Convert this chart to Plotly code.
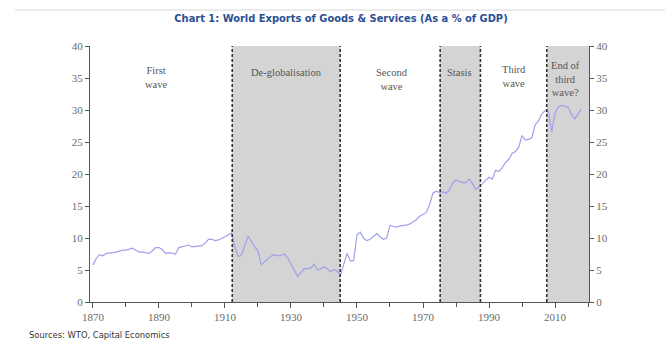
import plotly.graph_objects as go

years = list(range(1870, 2019))
exports_pct_gdp = [
    5.8, 6.8, 7.4, 7.2, 7.6, 7.6, 7.7, 7.8, 8.0, 8.1,   # 1870-1879
    8.1, 8.2, 8.4, 8.1, 7.8, 7.8, 7.7, 7.6, 8.0, 8.5,   # 1880-1889
    8.5, 8.2, 7.6, 7.7, 7.6, 7.5, 8.5, 8.6, 8.7, 8.9,   # 1890-1899
    8.6, 8.7, 8.7, 8.8, 9.2, 9.8, 9.8, 9.6, 9.7, 9.9,   # 1900-1909
    10.2, 10.5, 10.8, 8.6, 7.1, 7.3, 8.8, 10.3, 9.5, 8.6,  # 1910-1919
    8.0, 5.8, 6.3, 6.8, 7.2, 7.4, 7.2, 7.3, 7.5, 6.9,   # 1920-1929
    6.0, 5.0, 4.0, 4.6, 5.2, 5.2, 5.3, 5.9, 5.0, 5.2,   # 1930-1939
    5.5, 5.2, 4.7, 5.1, 4.8, 4.2, 5.8, 7.6, 6.4, 6.5,   # 1940-1949
    10.5, 10.9, 9.9, 9.6, 9.8, 10.2, 10.7, 10.2, 9.8, 10.0,  # 1950-1959
    12.0, 11.8, 11.7, 11.9, 11.9, 12.0, 12.2, 12.5, 12.9, 13.4,  # 1960-1969
    13.7, 14.0, 15.2, 17.0, 17.3, 17.1, 17.2, 17.0, 17.5, 18.6,  # 1970-1979
    19.1, 18.8, 18.7, 18.6, 19.2, 18.5, 17.6, 18.0, 18.5, 19.0,  # 1980-1989
    19.5, 19.2, 20.6, 20.4, 21.0, 21.8, 22.3, 23.2, 23.5, 24.2,  # 1990-1999
    26.0, 25.3, 25.4, 25.7, 27.7, 28.3, 29.4, 29.9, 29.8, 26.6,  # 2000-2009
    29.5, 30.5, 30.7, 30.6, 30.4, 29.3, 28.6, 29.4, 30.2,        # 2010-2018
]

# Periods (start, end) and labels
shaded_periods = [(1912.2, 1944.9), (1975.2, 1987.4), (2007.5, 2020.3)]
boundary_years = [1912.2, 1944.9, 1975.2, 1987.4, 2007.5]
period_labels = ["First<br>wave", "De-globalisation", "Second<br>wave",
                 "Stasis", "Third<br>wave", "End of<br>third<br>wave?"]
label_x = [1889.1, 1928.7, 1960.7, 1981.0, 1997.6, 2013.2]
label_y = [35.1, 35.8, 34.8, 35.8, 35.3, 34.9]

x_range = [1869.1, 2020.3]
y_range = [0, 40]
y_ticks = [0, 5, 10, 15, 20, 25, 30, 35, 40]
x_ticks = [1870, 1890, 1910, 1930, 1950, 1970, 1990, 2010]

axis_col = "#555555"
tick_font = dict(family="Liberation Serif, serif", size=11, color="#6a6a6a")
narrow = "DejaVu Sans Condensed, Liberation Sans Narrow, Roboto, sans-serif"

ML, MR, MT, MB = 90, 76, 46, 38
W, H = 665, 340
pw, ph = W - ML - MR, H - MT - MB

fig = go.Figure()
fig.add_trace(go.Scatter(x=years, y=exports_pct_gdp, mode="lines",
                         line=dict(color="#a0a0ec", width=1.2),
                         showlegend=False, hoverinfo="skip"))
fig.add_trace(go.Scatter(x=years, y=exports_pct_gdp, mode="lines", yaxis="y2",
                         line=dict(color="rgba(0,0,0,0)", width=0),
                         showlegend=False, hoverinfo="skip"))

for (a, b) in shaded_periods:
    fig.add_shape(type="rect", xref="x", yref="y", x0=a, x1=b, y0=y_range[0], y1=y_range[1],
                  fillcolor="#d4d4d4", line=dict(width=0), layer="below")
for bx in boundary_years:
    fig.add_shape(type="line", xref="x", yref="y", x0=bx, x1=bx, y0=y_range[0], y1=y_range[1],
                  line=dict(color="#333333", width=1.6, dash="3px,2px"), layer="above")

for t, lx, ly in zip(period_labels, label_x, label_y):
    fig.add_annotation(x=lx, y=ly, xref="x", yref="y", text=t, showarrow=False,
                       font=dict(family="Liberation Serif, serif", size=10.5, color="#555555"),
                       align="center", yanchor="middle")

# top rule
fig.add_shape(type="line", xref="paper", yref="paper",
              x0=(15 - ML) / pw, x1=(W - ML) / pw,
              y0=(H - MB - 10) / ph, y1=(H - MB - 10) / ph,
              line=dict(color="#d6d6d6", width=1))

fig.add_annotation(x=(27 - ML) / pw, y=(H - MB - 334) / ph, xref="paper", yref="paper",
                   xanchor="left", yanchor="middle", text="Sources: WTO, Capital Economics",
                   showarrow=False, font=dict(family=narrow, size=9.3, color="#333333"))

fig.update_layout(
    width=W, height=H,
    margin=dict(l=ML, r=MR, t=MT, b=MB),
    paper_bgcolor="white", plot_bgcolor="white",
    title=dict(text="<b>Chart 1: World Exports of Goods &amp; Services (As a % of GDP)</b>",
               x=341 / W, xanchor="center", y=1 - 18 / H, yanchor="middle",
               font=dict(family=narrow, size=11, color="#2b4f95")),
    xaxis=dict(range=x_range, tickvals=x_ticks, ticks="outside", ticklen=5, tickcolor=axis_col,
               showline=True, linecolor=axis_col, linewidth=1, showgrid=False, zeroline=False,
               tickfont=tick_font,
               minor=dict(dtick=10, tick0=1870, ticks="outside", ticklen=4, tickcolor=axis_col)),
    yaxis=dict(range=y_range, tickvals=y_ticks, ticks="outside", ticklen=4, tickcolor=axis_col,
               showline=True, linecolor=axis_col, linewidth=1, showgrid=False, zeroline=False,
               tickfont=tick_font),
    yaxis2=dict(range=y_range, tickvals=y_ticks, ticks="outside", ticklen=4, tickcolor=axis_col,
                showline=True, linecolor=axis_col, linewidth=1, showgrid=False, zeroline=False,
                overlaying="y", side="right", tickfont=tick_font),
)

fig.write_html("out.html")
